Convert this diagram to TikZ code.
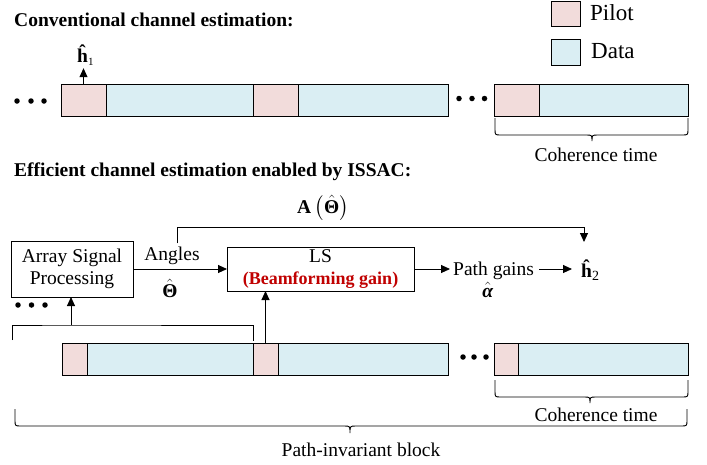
\documentclass[tikz,border=0pt]{standalone}
\usepackage{fontspec}
\setmainfont{Liberation Serif}
\usepackage{amsmath}
\usetikzlibrary{arrows.meta}
\definecolor{pilotc}{HTML}{F2DCDB}
\definecolor{datac}{HTML}{DAEEF3}
\definecolor{redc}{HTML}{C00000}
\begin{document}
\begin{tikzpicture}[x=1pt,y=1pt,
 cell/.style={draw, line width=0.9pt, inner sep=0pt, outer sep=0pt, anchor=north west, minimum height=32pt},
 pilotcell/.style={cell, fill=pilotc},
 datacell/.style={cell, fill=datac},
 txt/.style={font=\fontsize{19.5}{22}\selectfont, inner sep=0pt},
 hdr/.style={font=\fontsize{19.5}{22}\selectfont\bfseries, inner sep=0pt, anchor=base west},
 legtxt/.style={font=\fontsize{23}{26}\selectfont, inner sep=0pt, anchor=base west},
 blockbox/.style={draw, line width=0.9pt, inner sep=0pt, outer sep=0pt, anchor=north west, align=center, font=\fontsize{19.5}{21.5}\selectfont},
 arr/.style={line width=0.9pt, -{Triangle[length=9pt,width=8pt]}},
 ln/.style={line width=0.9pt},
 dotc/.style={circle, fill=black, inner sep=0pt, minimum size=5.5pt},
]
\useasboundingbox (0,0) rectangle (707,-464);

% headers
\node[hdr] (hdra) at (14,-26) {Conventional channel estimation:};
\node[hdr] (hdrb) at (14,-176) {Efficient channel estimation enabled by ISSAC:};

% legend
\node[pilotcell, minimum width=29pt, minimum height=25pt] (legp) at (551,-1) {};
\node[legtxt] (legpt) at (590,-20) {Pilot};
\node[datacell, minimum width=29pt, minimum height=26pt] (legd) at (551,-39) {};
\node[legtxt] (legdt) at (591,-58) {Data};

% top bar
\node[pilotcell, minimum width=45pt] (p1) at (61,-84) {};
\node[datacell, minimum width=147pt] (d1) at (106,-84) {};
\node[pilotcell, minimum width=45pt] (p2) at (253,-84) {};
\node[datacell, minimum width=150pt] (d2) at (298,-84) {};
\node[pilotcell, minimum width=45pt] (p3) at (494,-84) {};
\node[datacell, minimum width=149pt] (d3) at (539,-84) {};

\node[dotc] (ta) at (17,-101) {};
\node[dotc] (tb) at (31,-101) {};
\node[dotc] (tc) at (44,-101) {};
\node[dotc] (ua) at (459,-98.5) {};
\node[dotc] (ub) at (472,-98.5) {};
\node[dotc] (uc) at (484.5,-98.5) {};

\node[txt, anchor=base west] (h1) at (77,-62) {{\bfseries ĥ}\raisebox{-3pt}{\fontsize{11}{12}\selectfont 1}};
\draw[arr, shorten >=3pt] (p1.north) -- (h1.south -| p1.north);

% top brace
\draw[ln] (495,-118) -- (495,-129) .. controls (495,-135) .. (501,-135) -- (586,-135)
  .. controls (592,-135) .. (592,-141) .. controls (592,-135) .. (598,-135) -- (682,-135)
  .. controls (688,-135) .. (688,-129) -- (688,-118);
\node[txt, anchor=base] (coha) at (596,-161) {Coherence time};

% second part
\node[blockbox, minimum width=122pt, minimum height=56pt] (asp) at (11,-241) {Array Signal\\Processing};
\node[blockbox, minimum width=187pt, minimum height=44pt, font=\fontsize{19.5}{22}\selectfont] (ls) at (227,-247)
  {LS\\{\fontsize{18}{22}\selectfont\bfseries\color{redc}(Beamforming gain)}};

\node[txt, anchor=base] (ang) at (172,-260) {Angles};
\node[txt, anchor=base] (theta) at (170,-297) {$\hat{\textbf{Θ}}$};
\node[txt, anchor=base] (atheta) at (323,-213) {$\textbf{A}\left(\hat{\textbf{Θ}}\right)$};
\node[txt, anchor=base west] (pg) at (453,-275) {Path gains};
\node[txt, anchor=base] (alpha) at (488,-297) {$\hat{\textbf{\textit{α}}}$};
\node[txt, anchor=base west] (h2) at (581,-277) {{\bfseries ĥ}\raisebox{-3pt}{\fontsize{14}{15}\selectfont 2}};

\draw[arr] (asp.east) -- (ls.west);
\draw[arr, shorten >=3pt] (ls.east) -- (ls.east -| pg.west);
\draw[arr, shorten <=5pt, shorten >=9pt] (pg.east |- ls.east) -- (h2.west |- ls.east);
\coordinate (abus) at (584,-227);
\coordinate (atip) at (584,-242);
\draw[arr] ([xshift=5pt,yshift=3pt]ang.north) |- (abus) -- (atip);

\node[dotc] (va) at (18,-305) {};
\node[dotc] (vb) at (31.5,-305) {};
\node[dotc] (vc) at (45,-305) {};

% bottom bar
\node[pilotcell, minimum width=25pt] (p4) at (62,-343) {};
\node[datacell, minimum width=166pt] (d4) at (87,-343) {};
\node[pilotcell, minimum width=25pt] (p5) at (253,-343) {};
\node[datacell, minimum width=170pt] (d5) at (278,-343) {};
\node[pilotcell, minimum width=24pt] (p6) at (494,-343) {};
\node[datacell, minimum width=170pt] (d6) at (518,-343) {};

\node[dotc] (wa) at (463,-357) {};
\node[dotc] (wb) at (474,-357) {};
\node[dotc] (wc) at (486,-357) {};

\coordinate (brk) at (71,-325);
\draw[ln] (12,-340) |- (brk) -| ([yshift=2pt]p5.north west);
\draw[arr] (brk) -- (asp.south -| brk);
\draw[arr] (p5.north) -- (ls.south -| p5.north);

% bottom braces
\draw[ln] (495,-380) -- (495,-391) .. controls (495,-397) .. (501,-397) -- (584,-397)
  .. controls (590,-397) .. (590,-403) .. controls (590,-397) .. (596,-397) -- (682,-397)
  .. controls (688,-397) .. (688,-391) -- (688,-380);
\node[txt, anchor=base] (cohb) at (596,-421) {Coherence time};

\draw[ln] (15,-409) -- (15,-420) .. controls (15,-426) .. (21,-426) -- (344,-426)
  .. controls (350,-426) .. (350,-433) .. controls (350,-426) .. (356,-426) -- (681,-426)
  .. controls (687,-426) .. (687,-420) -- (687,-409);
\node[txt, anchor=base] (pib) at (361,-456) {Path-invariant block};
\end{tikzpicture}
\end{document}
